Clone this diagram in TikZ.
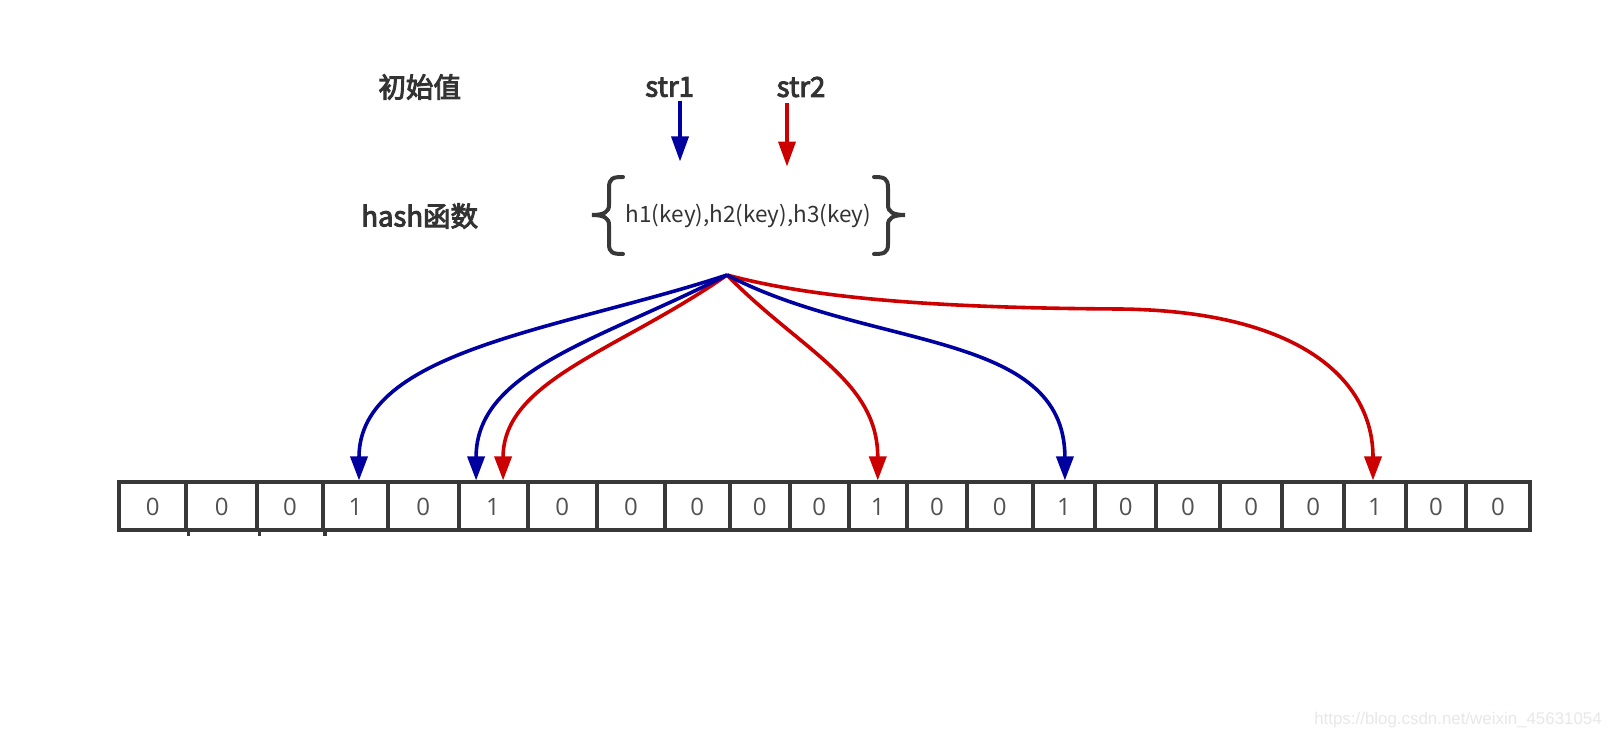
\documentclass[tikz,border=0pt]{standalone}
\usepackage{fontspec}
\setmainfont{Liberation Sans}
\newfontfamily\cjkfont{Noto Sans CJK SC}
\newfontfamily\cjkmed{Noto Sans CJK SC}[FakeBold=3.5]
\newfontfamily\digitfont{Open Sans}
\usetikzlibrary{arrows.meta,calc}
\definecolor{ablue}{RGB}{0,0,160}
\definecolor{ared}{RGB}{204,0,0}
\definecolor{txt}{HTML}{333333}
\definecolor{border}{HTML}{383838}
\definecolor{wm}{HTML}{E8E8E8}
\tikzset{
  cell/.style={draw=border, line width=4pt, inner sep=0pt, minimum height=47.3pt,
    font=\digitfont\fontsize{24}{24}\selectfont, text=txt!85, text height=18.5pt, text depth=0pt},
  lbl/.style={font=\cjkmed\fontsize{27.5}{30}\selectfont, text=txt, inner sep=0pt},
  funlbl/.style={font=\cjkfont\fontsize{22.5}{24}\selectfont, text=txt, inner sep=0pt},
  hasharrow/.style={line width=3.6pt, -{Triangle[length=24pt,width=17pt]}},
  bluearr/.style={hasharrow, color=ablue},
  redarr/.style={hasharrow, color=ared},
  inarrow/.style={line width=3.6pt, -{Triangle[length=25pt,width=17pt]}},
  bracestyle/.style={draw=border, line width=4pt, line cap=round},
  tickstyle/.style={draw=border, line width=3.4pt},
}
\begin{document}
\begin{tikzpicture}[x=1pt,y=-1pt]
\useasboundingbox (0,0) rectangle (1613,746);
\fill[white] (0,0) rectangle (1613,746);

% texts
\node[lbl] (init) at (419.7,87) {初始值};
\node[lbl] (hashf) at (419.7,216) {hash函数};
\node[lbl] (s1) at (669.6,87) {str1};
\node[lbl] (s2) at (801,87) {str2};
\node[funlbl] (hfun) at (748.5,216) {h1(key),h2(key),h3(key)};
\node[font=\fontsize{16.9}{18}\selectfont, text=wm, inner sep=0pt] (wmark) at (1458,720) {https://blog.csdn.net/weixin\_45631054};

% braces
\draw[bracestyle] (623,177) .. controls (613,177) and (609,178) .. (609,188) -- (609,205)
  .. controls (609,212) and (604,215) .. (592,215) .. controls (604,215) and (609,218) .. (609,225)
  -- (609,244) .. controls (609,253) and (613,254) .. (623,254);
\draw[bracestyle] (874,177) .. controls (884,177) and (888,178) .. (888,188) -- (888,205)
  .. controls (888,212) and (893,215) .. (905,215) .. controls (893,215) and (888,218) .. (888,225)
  -- (888,244) .. controls (888,253) and (884,254) .. (874,254);

% input arrows
\coordinate (a1s) at (680,100.8);
\coordinate (a1e) at (680,161.5);
\coordinate (a2s) at (787,103);
\coordinate (a2e) at (787,166.6);
\draw[inarrow, color=ablue] (a1s) -- (a1e);
\draw[inarrow, color=ared] (a2s) -- (a2e);

% cells
\foreach \i/\l/\r/\v in {0/119.3/186.2/0, 1/186.2/257.2/0, 2/257.2/323/0, 3/323/388/1,
  4/388/458.7/0, 5/458.7/527.5/1, 6/527.5/597/0, 7/597/665/0, 8/665/729.5/0,
  9/729.5/790/0, 10/790/848.5/0, 11/848.5/907/1, 12/907/967/0, 13/967/1032.5/0,
  14/1032.5/1095.3/1, 15/1095.3/1156/0, 16/1156/1220/0, 17/1220/1282.3/0,
  18/1282.3/1344/0, 19/1344/1406/1, 20/1406/1466/0, 21/1466/1530/0} {
  \pgfmathsetmacro\w{\r-\l}
  \pgfmathsetmacro\cx{(\l+\r)/2}
  \node[cell, minimum width=\w pt] (c\i) at (\cx,506.1) {\v};
}
\foreach \i in {0,1,2} {
  \draw[tickstyle] (c\i.south east) -- ++(0,4.5);
}

% hash arrows
\coordinate (src) at (727,275);
\coordinate (t1) at ($(c3.north)+(3.5,0)$);
\coordinate (t2) at ($(c5.north)+(-17,0)$);
\coordinate (t4) at ($(c5.north)+(10,0)$);
\coordinate (t5) at (c11.north);
\coordinate (t3) at ($(c14.north)+(1,0)$);
\coordinate (t6) at ($(c19.north)+(-2,0)$);

\draw[redarr] (src) .. controls (620,350) and (503,380) .. (t4);
\draw[redarr] (src) .. controls (800,350) and (877.75,380) .. (t5);
\draw[redarr] (src) .. controls (820,300) and (950,308) .. (1120,309)
  .. controls (1300,311) and (1373,380) .. (t6);
\draw[bluearr] (src) .. controls (560,330) and (359,350) .. (t1);
\draw[bluearr] (src) .. controls (600,340) and (476,370) .. (t2);
\draw[bluearr] (src) .. controls (870,350) and (1064.9,330) .. (t3);
\end{tikzpicture}
\end{document}
